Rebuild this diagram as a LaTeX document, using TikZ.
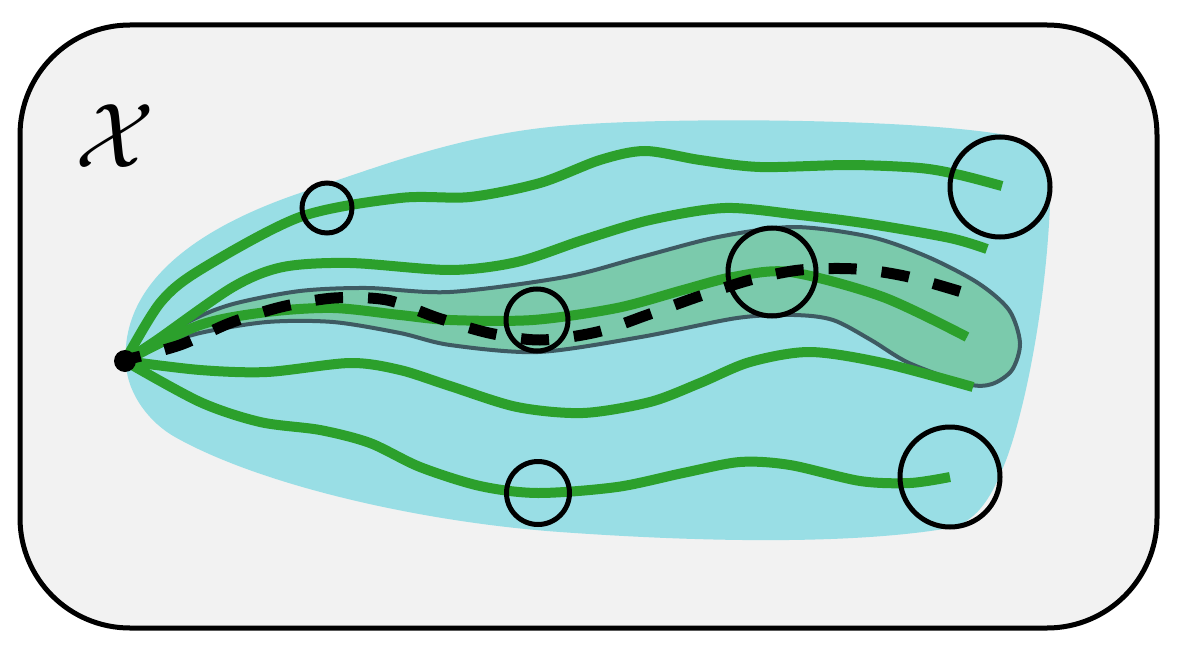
\documentclass[tikz,border=0pt]{standalone}
\definecolor{boxfill}{HTML}{F2F2F2}
\definecolor{reach}{HTML}{99DEE5}
\definecolor{tubefill}{HTML}{7BCAAC}
\definecolor{tubeedge}{HTML}{3E5A62}
\definecolor{traj}{HTML}{2CA02C}
\begin{document}
\begin{tikzpicture}[x=1pt,y=-1pt,
  trajline/.style={draw=traj, line width=10pt},
  ball/.style={circle, draw=black, line width=5pt, inner sep=0pt, minimum size=#1},
  meanline/.style={draw=black, line width=11pt, dash pattern=on 28pt off 25pt, dash phase=12pt}]
\useasboundingbox (0,0) rectangle (1183,650);
% domain
\draw[fill=boxfill, line width=5pt, rounded corners=110pt] (20,25) rectangle (1157,628);
\node[scale=9.2, inner sep=0pt] (lab) at (115,136) {$\mathcal{X}$};
% reachable region
\fill[reach] (126,365) .. controls (120,290) and (185,232) .. (300,193)
  .. controls (380,166) and (460,135) .. (560,126)
  .. controls (660,117) and (900,118) .. (1000,134)
  .. controls (1035,140) and (1050,165) .. (1050,205)
  .. controls (1045,320) and (1020,430) .. (1002,470)
  .. controls (990,500) and (975,522) .. (950,528)
  .. controls (850,545) and (700,542) .. (560,532)
  .. controls (420,522) and (260,485) .. (175,437)
  .. controls (150,423) and (128,395) .. (126,365) -- cycle;
% tube
\filldraw[fill=tubefill, draw=tubeedge, line width=4pt] plot[smooth] coordinates {
  (145,350) (190,321) (233,304) (300,291) (367,288) (450,292) (565,277) (641,257)
  (718,237) (794,227) (871,237) (928,257) (978,283) (1009,310) (1020,343) (1012,370)
  (992,384) (967,384) (909,363) (871,340) (833,320) (794,315) (737,318) (641,337)
  (538,352) (450,345) (400,333) (333,322) (267,322) (200,333) (145,350)} -- cycle;
% trajectories
\draw[trajline] plot[smooth] coordinates {(125,361) (160,303) (200,270) (300,217) (400,198)
  (470,197) (540,183) (600,160) (645,151) (700,160) (760,167) (850,165) (920,168)
  (960,175) (1002,186)};
\draw[trajline] plot[smooth] coordinates {(125,361) (157,340) (233,287) (283,267) (350,263)
  (450,270) (517,262) (583,240) (650,220) (725,208) (800,215) (870,224)
  (950,238) (987,249)};
\draw[trajline] plot[smooth] coordinates {(125,361) (200,325) (267,312) (333,308) (400,315)
  (450,320) (533,320) (617,308) (683,290) (733,277) (790,272) (883,297) (967,337)};
\draw[trajline] plot[smooth] coordinates {(125,361) (200,370) (267,372) (350,363) (400,370)
  (450,386) (517,407) (583,413) (650,402) (700,383) (750,362) (810,352)
  (883,363) (973,387)};
\draw[trajline] plot[smooth] coordinates {(125,361) (200,402) (260,422) (320,430) (370,443)
  (420,467) (480,486) (538,493) (617,487) (683,473) (740,462) (790,465) (860,481)
  (910,483) (950,477)};
% mean
\draw[meanline] plot[smooth] coordinates {(125,360) (180,345) (230,323) (281,307) (334,298)
  (387,300) (438,318) (489,333) (540,340) (597,332) (647,315) (697,297) (750,280)
  (800,270) (856,269) (909,277) (975,296)};
% balls
\node[ball=50pt] (b1) at (327,208) {};
\node[ball=62pt] (b2) at (537,320) {};
\node[ball=88pt] (b3) at (772,272) {};
\node[ball=100pt] (b4) at (1000,187) {};
\node[ball=100pt] (b5) at (950,477) {};
\node[ball=63pt] (b6) at (538,493) {};
% origin
\node[circle, fill=black, inner sep=0pt, minimum size=22pt] (o) at (125,361) {};
\end{tikzpicture}
\end{document}
